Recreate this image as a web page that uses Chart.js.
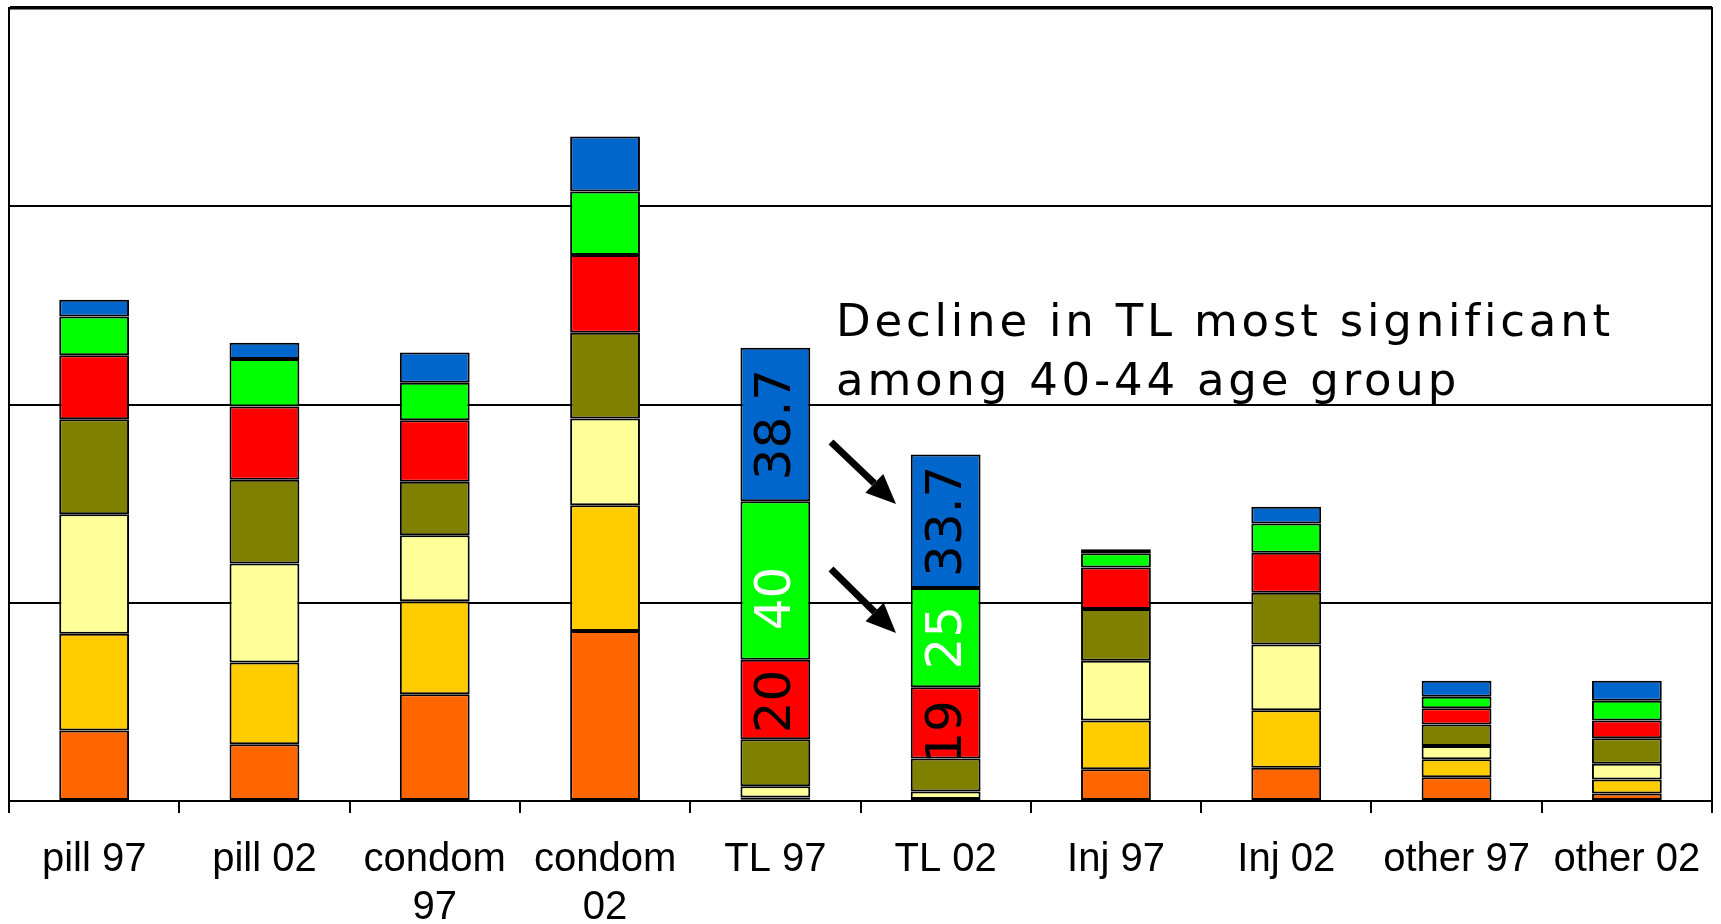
<!DOCTYPE html>
<html>
<head>
<meta charset="utf-8">
<script src="https://cdn.jsdelivr.net/npm/chart.js@4"></script>
<style>
  body { margin: 0; background: #fff; }
  #wrap { width: 1721px; height: 924px; }
</style>
</head>
<body>
<div id="wrap"><canvas id="methodChart" width="1721" height="924"></canvas></div>
<script>
// Categories (method + survey year)
const categories = [
    'pill 97', 'pill 02', ['condom', '97'], ['condom', '02'], 'TL 97',
    'TL 02', 'Inj 97', 'Inj 02', 'other 97', 'other 02'
];

// Age groups, stacked bottom to top
const ageGroups = ['15-19', '20-24', '25-29', '30-34', '35-39', '40-44', '45-49'];
const ageColors = ['#FF6600', '#FFCC00', '#FFFF99', '#808000', '#FF0000', '#00FF00', '#0066CC'];

// Values per age group
const age1519 = [17.8, 14.3, 26.9, 42.9, 0.3, 0.2, 8.0, 8.4, 6.0, 1.9];
const age2024 = [24.4, 20.6, 23.5, 31.7, 0.6, 0.3, 12.3, 14.5, 4.5, 3.5];
const age2529 = [30.1, 25.0, 16.6, 21.9, 2.8, 1.9, 15.1, 16.6, 3.4, 4.0];
const age3034 = [24.0, 21.1, 13.5, 21.6, 11.9, 8.3, 13.0, 13.0, 5.4, 6.4];
const age3539 = [16.1, 18.5, 15.5, 19.6, 20.0, 18.0, 10.5, 10.1, 4.1, 4.5];
const age4044 = [9.8, 12.0, 9.5, 16.0, 40.0, 25.0, 3.6, 7.4, 2.9, 5.0];
const age4549 = [4.2, 4.1, 7.6, 13.9, 38.7, 33.7, 1.0, 4.2, 4.0, 5.0];
const seriesValues = [age1519, age2024, age2529, age3034, age3539, age4044, age4549];

// Value axis
const yMin = 0;
const yMax = 200;
const yStep = 50;

// Text written inside the TL bars
const segLabelCats = [4, 4, 4, 5, 5, 5];
const segLabelSeries = [6, 5, 4, 6, 5, 4];
const segLabelTexts = ['38.7', '40', '20', '33.7', '25', '19'];
const segLabelColors = ['#000', '#fff', '#000', '#000', '#fff', '#000'];

const noteLines = ['Decline in TL most significant', 'among 40-44 age group'];

// Draws the right frame edge, labels in the TL bars, the note and the arrows
const overlayPlugin = {
    id: 'overlay',
    afterDraw(chart) {
        const ctx = chart.ctx;
        const area = chart.chartArea;
        const labelShift = [0, 18, 2, 0, 0, 9];

        ctx.save();
        ctx.strokeStyle = '#000';
        ctx.lineWidth = 2;
        ctx.beginPath();
        ctx.moveTo(area.right, area.top - 1);
        ctx.lineTo(area.right, area.bottom);
        ctx.stroke();

        // rotated labels inside segments
        ctx.font = '50px "DejaVu Sans"';
        ctx.textAlign = 'center';
        ctx.textBaseline = 'middle';
        segLabelTexts.forEach((text, k) => {
            const bar = chart.getDatasetMeta(segLabelSeries[k]).data[segLabelCats[k]];
            const cy = (bar.y + bar.base) / 2 + labelShift[k];
            ctx.save();
            ctx.translate(bar.x, cy);
            ctx.rotate(-Math.PI / 2);
            ctx.fillStyle = segLabelColors[k];
            ctx.fillText(text, 0, 2);
            ctx.restore();
        });

        // note text
        ctx.fillStyle = '#000';
        ctx.font = '45px "DejaVu Sans"';
        ctx.textAlign = 'left';
        ctx.textBaseline = 'alphabetic';
        if ('letterSpacing' in ctx) ctx.letterSpacing = '3.8px';
        ctx.fillText(noteLines[0], 836, 336);
        ctx.fillText(noteLines[1], 836, 395);
        if ('letterSpacing' in ctx) ctx.letterSpacing = '0px';

        // arrows
        drawArrow(ctx, 831, 442, 896, 504);
        drawArrow(ctx, 831, 569, 896, 633);
        ctx.restore();
    }
};

function drawArrow(ctx, x1, y1, x2, y2) {
    const ang = Math.atan2(y2 - y1, x2 - x1);
    const headLen = 30;
    const headHalf = 13;
    const bx = x2 - headLen * Math.cos(ang);
    const by = y2 - headLen * Math.sin(ang);
    ctx.strokeStyle = '#000';
    ctx.lineWidth = 7;
    ctx.beginPath();
    ctx.moveTo(x1, y1);
    ctx.lineTo(bx, by);
    ctx.stroke();
    ctx.fillStyle = '#000';
    ctx.beginPath();
    ctx.moveTo(x2, y2);
    ctx.lineTo(bx + headHalf * Math.sin(ang), by - headHalf * Math.cos(ang));
    ctx.lineTo(bx - headHalf * Math.sin(ang), by + headHalf * Math.cos(ang));
    ctx.closePath();
    ctx.fill();
}

const datasets = ageGroups.map((name, i) => ({
    label: name,
    data: seriesValues[i],
    backgroundColor: ageColors[i],
    borderColor: '#000',
    borderWidth: 2,
    borderSkipped: false,
    categoryPercentage: 1,
    barPercentage: 0.41
}));

new Chart(document.getElementById('methodChart').getContext('2d'), {
    type: 'bar',
    data: { labels: categories, datasets: datasets },
    options: {
        responsive: false,
        animation: false,
        layout: { padding: { left: 9, right: 9, top: 8, bottom: 0 } },
        plugins: {
            legend: { display: false },
            tooltip: { enabled: false }
        },
        scales: {
            x: {
                stacked: true,
                grid: {
                    display: true,
                    offset: true,
                    drawOnChartArea: false,
                    drawTicks: true,
                    tickLength: 12,
                    color: '#000',
                    lineWidth: 2
                },
                border: { display: true, color: '#000', width: 2 },
                ticks: {
                    color: '#000',
                    font: { family: '"Liberation Sans", Arial, sans-serif', size: 40, lineHeight: 1.2 },
                    padding: 23,
                    maxRotation: 0,
                    autoSkip: false
                },
                afterFit(scale) {
                    scale.height = 123;
                    scale.paddingLeft = 0;
                    scale.paddingRight = 0;
                }
            },
            y: {
                stacked: true,
                min: yMin,
                max: yMax,
                ticks: { display: false, stepSize: yStep },
                grid: {
                    color: '#000',
                    lineWidth: c => (c.tick && c.tick.value === yMax ? 3.5 : 2),
                    drawTicks: false
                },
                border: { display: true, color: '#000', width: 2 },
                afterFit(scale) { scale.width = 0; }
            }
        }
    },
    plugins: [overlayPlugin]
});
</script>
</body>
</html>
